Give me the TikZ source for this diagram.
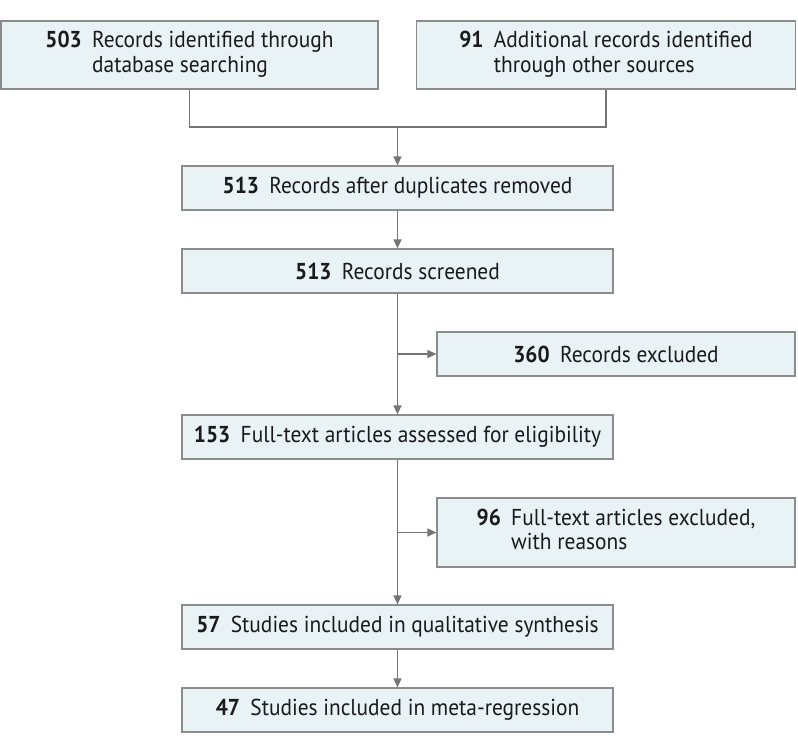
\documentclass[tikz,border=0pt]{standalone}
\usepackage{fontspec}
\setmainfont[FakeStretch=0.93]{PT Sans}
\usetikzlibrary{arrows.meta}
\definecolor{boxfill}{HTML}{E9F2F5}
\definecolor{boxline}{HTML}{8C8C8C}
\definecolor{conn}{HTML}{757575}
\definecolor{txt}{HTML}{1A1A1A}
\tikzset{
  box/.style={draw=boxline, fill=boxfill, line width=1.2pt, text=txt, inner sep=0pt,
    font=\fontsize{23}{24.5}\selectfont, anchor=center},
  conline/.style={draw=conn, line width=1.3pt},
  arr/.style={conline, -{Triangle[length=9pt,width=8pt]}}
}
\newcommand{\num}[1]{\textbf{#1}\hspace{0.45em}}
\begin{document}
\begin{tikzpicture}[x=1pt,y=-1pt]
\useasboundingbox (0,0) rectangle (798,753);
\node[box, minimum width=377pt, minimum height=68pt] (b1) at (189.5,55)
  {\begin{tabular}{@{}l@{\hspace{0.45em}}l@{}}\textbf{503} & Records identified through\\ & database searching\end{tabular}};
\node[box, minimum width=379pt, minimum height=68pt] (b2) at (606,55)
  {\begin{tabular}{@{}l@{\hspace{0.45em}}l@{}}\textbf{91} & Additional records identified\\ & through other sources\end{tabular}};
\node[box, minimum width=431pt, minimum height=44pt] (b3) at (397.5,188) {\num{513}Records after duplicates removed};
\node[box, minimum width=431pt, minimum height=44pt] (b4) at (397.5,271) {\num{513}Records screened};
\node[box, minimum width=358pt, minimum height=44pt] (b5) at (616,354) {\num{360}Records excluded};
\node[box, minimum width=431pt, minimum height=44pt] (b6) at (397.5,437) {\num{153}Full-text articles assessed for eligibility};
\node[box, minimum width=358pt, minimum height=69pt] (b7) at (616,532.5)
  {\begin{tabular}{@{}l@{\hspace{0.45em}}l@{}}\textbf{96} & Full-text articles excluded,\\ & with reasons\end{tabular}};
\node[box, minimum width=431pt, minimum height=44pt] (b8) at (397.5,627) {\num{57}Studies included in qualitative synthesis};
\node[box, minimum width=431pt, minimum height=44pt] (b9) at (397.5,710) {\num{47}Studies included in meta-regression};
\coordinate (m) at (397.5,127);
\draw[conline] (b1.south) |- (m);
\draw[conline] (b2.south) |- (m);
\draw[arr] (m) -- (b3.north);
\draw[arr] (b3.south) -- (b4.north);
\draw[arr] (b4.south) -- (b6.north);
\draw[arr] (b4.south |- b5.west) -- (b5.west);
\draw[arr] (b6.south) -- (b8.north);
\draw[arr] (b6.south |- b7.west) -- (b7.west);
\draw[arr] (b8.south) -- (b9.north);
\end{tikzpicture}
\end{document}
